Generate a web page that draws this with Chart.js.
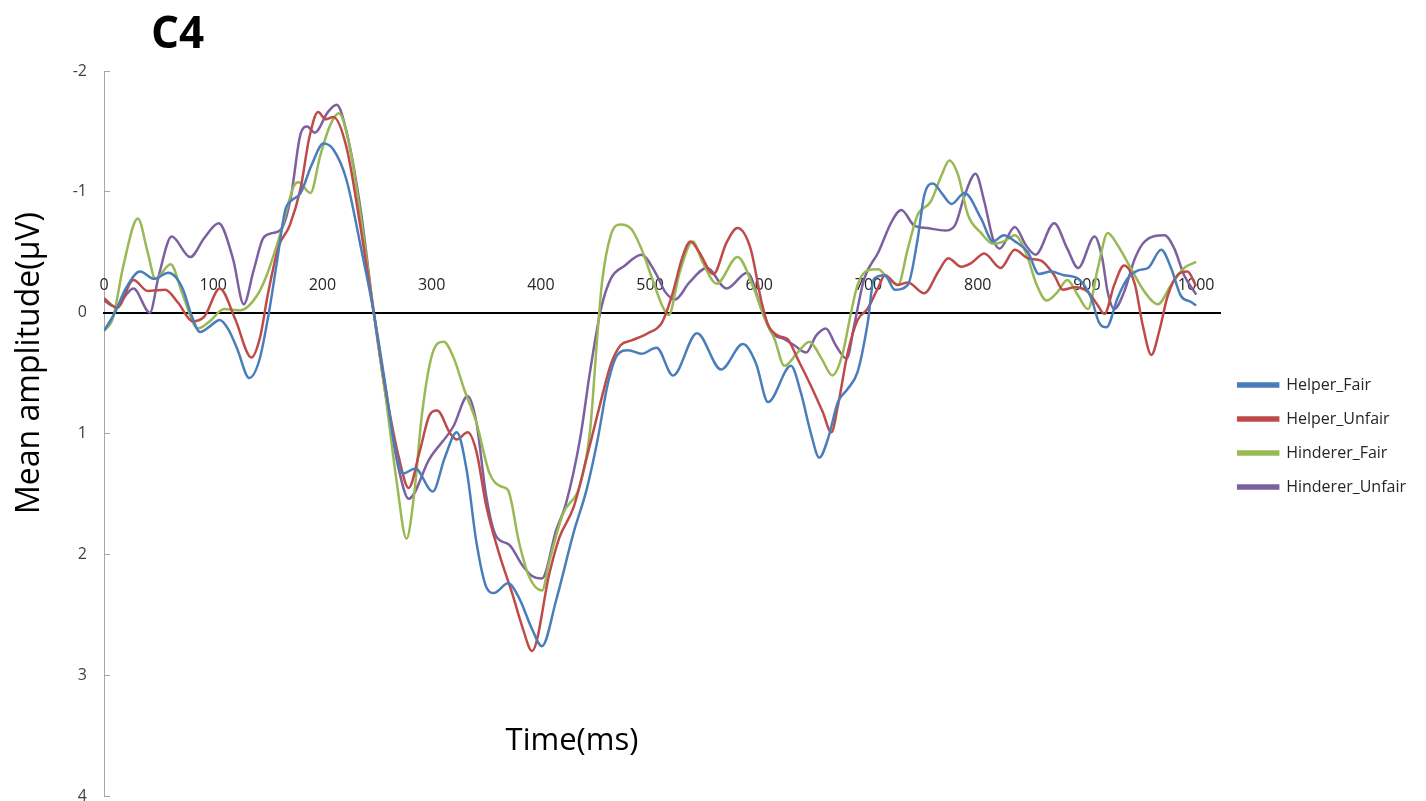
<!DOCTYPE html>
<html>
<head>
<meta charset="utf-8">
<script src="https://cdn.jsdelivr.net/npm/chart.js@4.4.0/dist/chart.umd.min.js"></script>
<style>
html,body{margin:0;padding:0;background:#fff;}
</style>
</head>
<body>
<canvas id="c" width="1426" height="801"></canvas>
<script>
// ---- text ----
const chartTitle = 'C4';
const xTitle = 'Time(ms)';
const yTitle = 'Mean amplitude(\u03bcV)';
const seriesNames = ['Helper_Fair', 'Helper_Unfair', 'Hinderer_Fair', 'Hinderer_Unfair'];
const seriesColors = ['#4A7EBB', '#BE4B48', '#98B954', '#7D60A0'];

// ---- data (time in ms, amplitude in µV) ----
const helperFairT = [0,10,20,33,46,59,72,80,88,96,106,114,122,133,142,151,158,166,172,180,190,201,210,222,235,247,258,266,274,285,301,312,323,332,341,350,357,370,380,392,401,414,430,442,452,461,470,480,492,506,521,543,565,585,597,608,629,638,647,655,663,672,681,690,699,705,715,724,736,745,751,759,767,776,788,803,814,824,834,846,856,867,879,892,904,911,918,928,937,947,956,968,977,986,995,1000];
const helperFairV = [0.15,0.0,-0.2,-0.34,-0.28,-0.33,-0.2,0.02,0.16,0.12,0.06,0.14,0.3,0.54,0.4,0.0,-0.4,-0.85,-0.93,-0.99,-1.22,-1.40,-1.35,-1.1,-0.55,0.0,0.62,1.1,1.33,1.29,1.48,1.2,0.99,1.3,1.9,2.27,2.32,2.24,2.36,2.62,2.76,2.38,1.82,1.46,1.05,0.6,0.35,0.31,0.34,0.29,0.52,0.17,0.47,0.26,0.42,0.74,0.44,0.66,0.99,1.2,1.04,0.74,0.63,0.49,0.1,-0.28,-0.31,-0.19,-0.23,-0.61,-0.97,-1.07,-0.99,-0.9,-0.99,-0.78,-0.59,-0.64,-0.59,-0.5,-0.32,-0.34,-0.31,-0.28,-0.12,0.08,0.12,-0.12,-0.28,-0.35,-0.37,-0.52,-0.37,-0.14,-0.09,-0.06];

const helperUnfairT = [0,12,27,40,56,68,81,92,106,120,135,143,150,160,170,180,188,196,203,210,222,235,247,260,270,279,289,298,305,317,323,333,341,350,362,374,383,392,408,417,430,442,455,464,473,483,498,511,520,530,537,545,558,570,580,592,602,608,617,626,635,647,658,666,672,681,690,699,709,715,727,736,751,764,773,785,794,806,821,834,846,858,870,878,889,901,910,916,925,934,944,951,959,966,974,983,992,1000];
const helperUnfairV = [-0.12,-0.04,-0.27,-0.18,-0.19,-0.08,0.07,0.03,-0.2,0.05,0.37,0.2,-0.15,-0.55,-0.72,-1.03,-1.45,-1.66,-1.6,-1.62,-1.37,-0.7,0.0,0.75,1.2,1.45,1.15,0.85,0.81,1.0,1.05,0.99,1.15,1.6,2.0,2.33,2.6,2.8,2.15,1.86,1.61,1.2,0.73,0.43,0.27,0.23,0.17,0.08,-0.14,-0.47,-0.59,-0.5,-0.32,-0.58,-0.7,-0.53,-0.09,0.1,0.19,0.22,0.38,0.6,0.82,0.99,0.77,0.33,0.06,-0.03,-0.21,-0.31,-0.23,-0.25,-0.16,-0.34,-0.45,-0.38,-0.41,-0.49,-0.37,-0.52,-0.45,-0.43,-0.31,-0.19,-0.21,-0.17,-0.06,0.01,-0.23,-0.39,-0.23,0.1,0.35,0.16,-0.14,-0.31,-0.34,-0.22];

const hindererFairT = [0,8,18,31,40,47,61,72,86,97,110,125,140,149,161,174,178,189,198,207,215,225,235,247,258,268,277,284,291,301,311,320,330,341,353,364,370,380,389,401,408,420,436,445,452,456,464,473,483,492,502,511,517,527,539,548,561,580,595,605,614,623,635,646,657,667,676,684,690,699,709,718,727,736,745,757,767,774,782,791,803,814,824,834,844,854,863,873,882,892,901,910,919,928,940,953,965,977,989,1000];
const hindererFairV = [0.15,0.05,-0.4,-0.78,-0.5,-0.28,-0.40,-0.15,0.13,0.07,-0.03,-0.02,-0.14,-0.31,-0.64,-1.05,-1.08,-0.99,-1.3,-1.55,-1.65,-1.37,-0.8,0.0,0.7,1.4,1.87,1.5,0.85,0.33,0.24,0.37,0.64,0.91,1.33,1.44,1.47,1.9,2.18,2.3,2.05,1.67,1.42,0.98,0.16,-0.25,-0.64,-0.73,-0.69,-0.53,-0.28,-0.06,0.02,-0.33,-0.59,-0.42,-0.24,-0.46,-0.2,0.05,0.22,0.44,0.33,0.24,0.38,0.52,0.35,0.0,-0.23,-0.35,-0.36,-0.28,-0.23,-0.53,-0.81,-0.92,-1.14,-1.26,-1.14,-0.81,-0.66,-0.57,-0.59,-0.64,-0.5,-0.23,-0.1,-0.17,-0.27,-0.14,-0.03,-0.37,-0.66,-0.56,-0.37,-0.17,-0.07,-0.23,-0.37,-0.42];

const hindererUnfairT = [0,10,27,42,50,62,79,92,105,118,128,137,146,155,163,171,180,186,193,205,213,222,235,247,260,270,279,298,320,333,341,350,359,371,383,392,401,414,423,436,445,455,464,477,492,505,514,523,536,552,570,589,602,611,623,632,643,652,661,670,680,687,696,709,721,730,742,754,770,779,788,798,806,814,820,834,844,853,870,882,892,907,914,919,925,934,944,953,971,980,989,1000];
const hindererUnfairV = [-0.1,-0.05,-0.2,0.0,-0.3,-0.63,-0.46,-0.62,-0.74,-0.45,-0.07,-0.35,-0.62,-0.66,-0.7,-0.95,-1.48,-1.54,-1.49,-1.66,-1.72,-1.5,-0.85,0.0,0.8,1.3,1.54,1.21,0.94,0.69,0.91,1.52,1.85,1.92,2.09,2.18,2.2,1.8,1.58,1.04,0.49,-0.03,-0.28,-0.39,-0.48,-0.33,-0.17,-0.11,-0.25,-0.37,-0.2,-0.33,-0.03,0.16,0.22,0.27,0.33,0.19,0.13,0.27,0.38,0.1,-0.28,-0.5,-0.75,-0.85,-0.72,-0.7,-0.68,-0.72,-0.97,-1.15,-0.92,-0.61,-0.53,-0.71,-0.56,-0.48,-0.74,-0.53,-0.37,-0.63,-0.45,-0.17,-0.03,-0.17,-0.45,-0.59,-0.64,-0.53,-0.31,-0.15];

// ---- axis ticks ----
const yMin = -2, yMax = 4, yStep = 1;
const xMin = 0, xMax = 1022, xStep = 100;

const seriesT = [helperFairT, helperUnfairT, hindererFairT, hindererUnfairT];
const seriesV = [helperFairV, helperUnfairV, hindererFairV, hindererUnfairV];

const datasets = seriesNames.map((name, i) => ({
  label: name,
  data: seriesT[i].map((t, k) => ({x: t, y: seriesV[i][k]})),
  borderColor: seriesColors[i],
  backgroundColor: seriesColors[i],
  borderWidth: 2.5,
  pointRadius: 0,
  fill: false,
  cubicInterpolationMode: 'monotone'
}));

const FONT = '"Open Sans", "DejaVu Sans", sans-serif';

const textPlugin = {
  id: 'freeTexts',
  afterDraw(chart) {
    const ctx = chart.ctx;
    ctx.save();
    ctx.fillStyle = '#000';
    ctx.textAlign = 'left';
    ctx.textBaseline = 'alphabetic';
    ctx.font = 'bold 44px ' + FONT;
    ctx.fillText(chartTitle, 151, 48);
    ctx.font = '31px ' + FONT;
    ctx.textAlign = 'center';
    ctx.textBaseline = 'middle';
    ctx.fillText(xTitle, 572, 741);
    ctx.translate(30, 363);
    ctx.rotate(-Math.PI / 2);
    ctx.font = '32px ' + FONT;
    ctx.fillText(yTitle, 0, 0);
    ctx.restore();
  }
};

new Chart(document.getElementById('c'), {
  type: 'line',
  data: { datasets },
  options: {
    responsive: false,
    animation: false,
    layout: { padding: { top: 71, right: 10, bottom: 0, left: 0 } },
    plugins: {
      legend: {
        position: 'right',
        labels: {
          boxWidth: 40, boxHeight: 3, padding: 18,
          color: '#262626',
          font: { family: FONT, size: 16 }
        }
      },
      tooltip: { enabled: false },
      title: { display: false }
    },
    scales: {
      y: {
        type: 'linear', min: yMin, max: yMax, reverse: true, position: 'left',
        afterFit(s) { s.width = 104; s.paddingBottom = 5; },
        grid: { drawOnChartArea: false, drawTicks: true, tickLength: -6, tickColor: '#a6a6a6' },
        border: { display: true, color: '#a6a6a6', width: 1 },
        ticks: { stepSize: yStep, padding: 23, color: '#404040', font: { family: FONT, size: 16 } }
      },
      x: {
        type: 'linear', min: xMin, max: xMax, position: { y: 0 },
        grid: { display: false },
        border: { display: true, color: '#000', width: 2 },
        ticks: { stepSize: xStep, includeBounds: false, autoSkip: false, maxRotation: 0,
                 padding: -45, color: '#262626', font: { family: FONT, size: 16 },
                 callback: (v) => String(v) }
      }
    }
  },
  plugins: [textPlugin]
});
</script>
</body>
</html>
